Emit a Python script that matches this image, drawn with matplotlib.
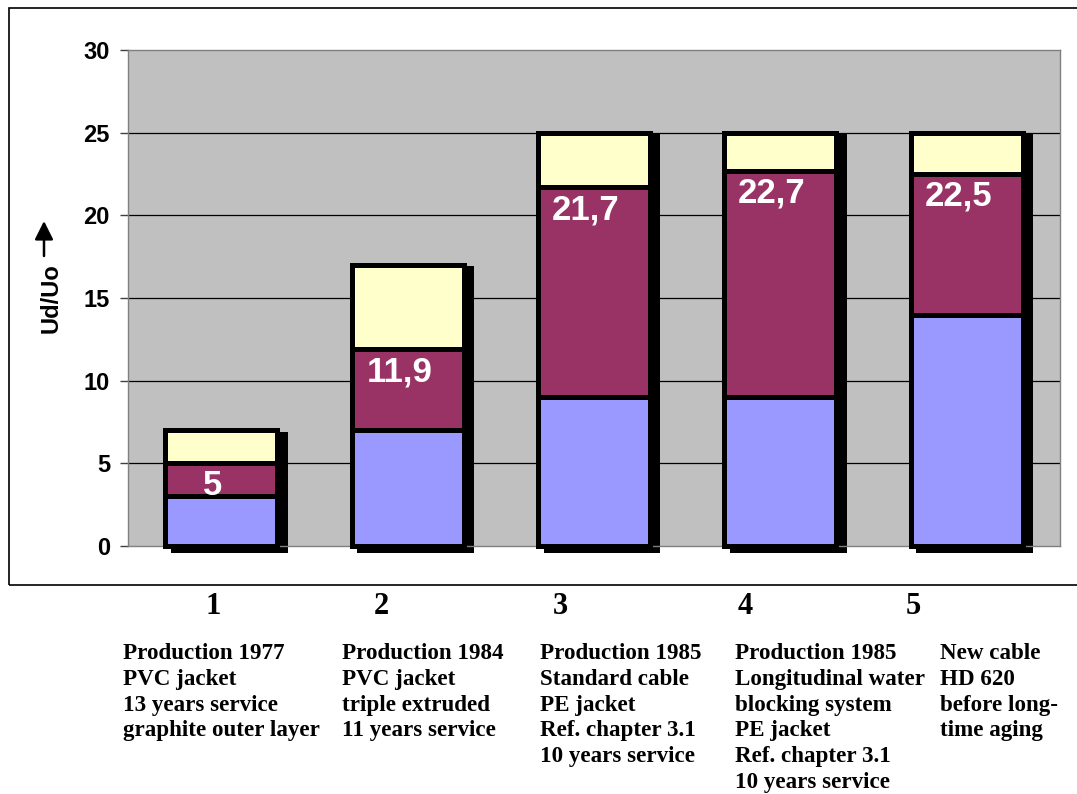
import numpy as np
import matplotlib
matplotlib.use("Agg")
from matplotlib import pyplot as plt
from matplotlib.patches import Rectangle

# Ud/Uo breakdown per cable sample
samples = [1, 2, 3, 4, 5]
lower = [3, 7, 9, 9, 14]          # blue part
middle_top = [5, 11.9, 21.7, 22.7, 22.5]   # top of the maroon part (labelled)
totals = [7, 17, 25, 25, 25]      # top of the pale yellow part
value_labels = ["5", "11,9", "21,7", "22,7", "22,5"]

descriptions = [
    "Production 1977\nPVC jacket\n13 years service\ngraphite outer layer",
    "Production 1984\nPVC jacket\ntriple extruded\n11 years service",
    "Production 1985\nStandard cable\nPE jacket\nRef. chapter 3.1\n10 years service",
    "Production 1985\nLongitudinal water\nblocking system\nPE jacket\nRef. chapter 3.1\n10 years service",
    "New cable\nHD 620\nbefore long-\ntime aging",
]

W, H = 1077, 794
fig = plt.figure(figsize=(W / 100, H / 100), dpi=100)

# outer frame around the chart
fig.add_artist(Rectangle((9 / W, 1 - 585 / H), 1.2, (585 - 8) / H,
                         transform=fig.transFigure, fill=False,
                         edgecolor="black", linewidth=1.2))

ax = fig.add_axes([128 / W, 1 - 546 / H, 932 / W, 496 / H])
ax.set_facecolor("#C0C0C0")
ax.set_xlim(0.5, 5.5)
ax.set_ylim(0, 30)

for yv in [5, 10, 15, 20, 25]:
    ax.axhline(yv, color="black", linewidth=0.9, zorder=1)

x = np.array(samples, dtype=float)
lower = np.array(lower)
middle_top = np.array(middle_top)
totals = np.array(totals)

px_x = 1 / 186.4      # one pixel in x data units
px_y = 30 / 496.0     # one pixel in y data units
bw = 0.60

# black drop shadow behind each stack
ax.bar(x + 8 * px_x, totals + 5 * px_y, width=bw + 5 * px_x,
       bottom=-6.5 * px_y, color="black", linewidth=0, zorder=2, clip_on=False)

ax.bar(x, lower, width=bw, color="#9999FF", edgecolor="black",
       linewidth=3.6, zorder=3, clip_on=False)
ax.bar(x, middle_top - lower, width=bw, bottom=lower, color="#993366",
       edgecolor="black", linewidth=3.6, zorder=3, clip_on=False)
ax.bar(x, totals - middle_top, width=bw, bottom=middle_top, color="#FFFFCC",
       edgecolor="black", linewidth=3.6, zorder=3, clip_on=False)

for xi, top, lab in zip(x, middle_top, value_labels):
    ax.text(xi - 0.045, top - 1.35, lab, color="white", fontsize=25,
            fontweight="bold", family="Liberation Sans",
            ha="center", va="center", zorder=5)

ax.set_xticks([])
ax.set_yticks([0, 5, 10, 15, 20, 25, 30])
ax.tick_params(axis="y", length=6, width=1, color="#404040", pad=7)
for lab in ax.get_yticklabels():
    lab.set_fontweight("bold")
    lab.set_fontsize(17)
    lab.set_family("Liberation Sans")
for sp in ax.spines.values():
    sp.set_color("#808080")
    sp.set_linewidth(1)

# y axis title with an upward arrow
fig.text(51 / W, 1 - 298 / H, "Ud/Uo", rotation=90, ha="center", va="center",
         fontsize=17, fontweight="bold", family="Liberation Sans")
fig.add_artist(plt.Annotation("", xy=(44 / W, 1 - 221 / H),
                              xytext=(44 / W, 1 - 256 / H),
                              xycoords=fig.transFigure,
                              textcoords=fig.transFigure,
                              arrowprops=dict(arrowstyle="-|>", color="black",
                                              lw=1.8, mutation_scale=28,
                                              shrinkA=0, shrinkB=0)))

# sample numbers and descriptions under the chart
num_x = [213, 381, 560, 745, 913]
text_x = [123, 342, 540, 735, 940]
for n, nx, tx, desc in zip(samples, num_x, text_x, descriptions):
    fig.text(nx / W, 1 - 607 / H, str(n), ha="center", va="center",
             fontsize=22, fontweight="bold", family="Liberation Serif")
    fig.text(tx / W, 1 - 643 / H, desc, ha="left", va="top",
             fontsize=16.6, fontweight="bold", family="Liberation Serif",
             linespacing=1.30)

fig.savefig("out.png", dpi=100)
